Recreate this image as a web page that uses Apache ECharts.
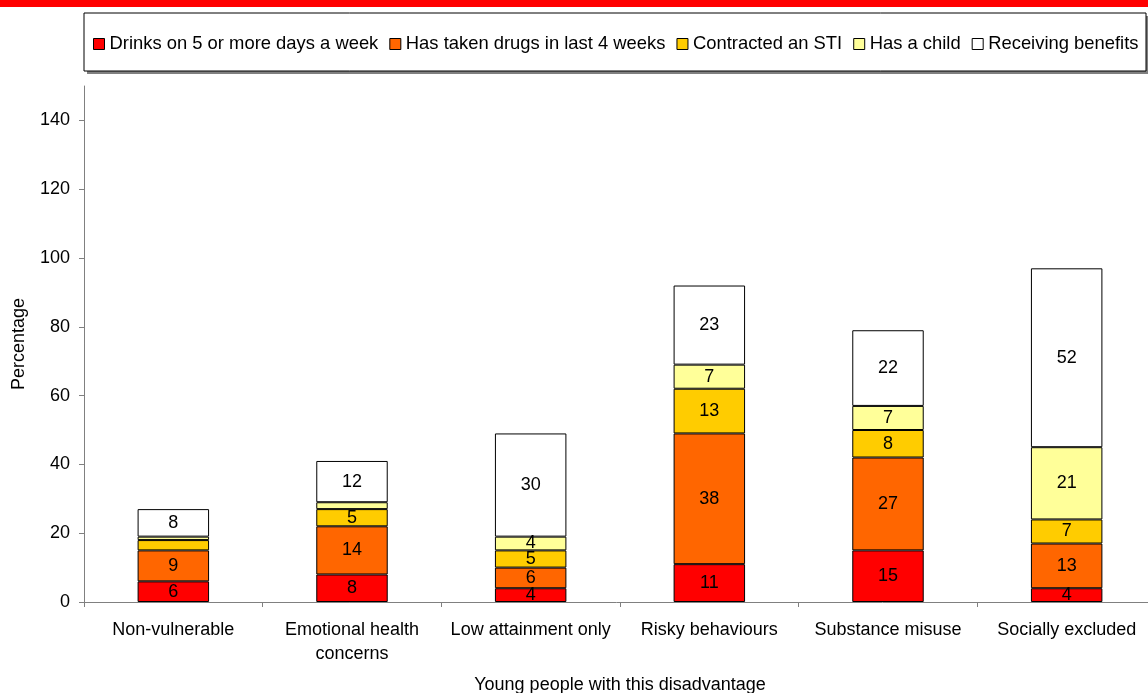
<!DOCTYPE html>
<html>
<head>
<meta charset="utf-8">
<script src="https://cdn.jsdelivr.net/npm/echarts@6/dist/echarts.min.js"></script>
<style>html,body{margin:0;padding:0;background:#fff;overflow:hidden;}#c{width:1148px;height:693px;}</style>
</head>
<body>
<div id="c"></div>
<script>
const categories = ['Non-vulnerable', 'Emotional health\nconcerns', 'Low attainment only', 'Risky behaviours', 'Substance misuse', 'Socially excluded'];
const drinks = [6, 8, 4, 11, 15, 4];
const drugs = [9, 14, 6, 38, 27, 13];
const sti = [3, 5, 5, 13, 8, 7];
const child = [1, 2, 4, 7, 7, 21];
const benefits = [8, 12, 30, 23, 22, 52];
const yTicks = [0, 20, 40, 60, 80, 100, 120, 140];

const FONT = "'Liberation Sans', Arial, sans-serif";
const FS = 18;
const names = ['Drinks on 5 or more days a week', 'Has taken drugs in last 4 weeks', 'Contracted an STI', 'Has a child', 'Receiving benefits'];
const colors = ['#ff0000', '#ff6600', '#ffcc00', '#ffff99', '#ffffff'];
const datas = [drinks, drugs, sti, child, benefits];

const chart = echarts.init(document.getElementById('c'));
const series = datas.map((d, i) => ({
  name: names[i],
  type: 'bar',
  stack: 'total',
  data: d,
  barWidth: '40%',
  itemStyle: { color: colors[i], borderColor: '#000', borderWidth: 1 },
  label: {
    show: true,
    position: 'inside',
    color: '#000',
    fontFamily: FONT,
    fontSize: FS,
    formatter: p => (p.value >= 4 ? String(p.value) : '')
  },
  emphasis: { disabled: true }
}));

chart.setOption({
  animation: false,
  backgroundColor: '#fff',
  graphic: [
    { type: 'rect', shape: { x: 0, y: 0, width: 1148, height: 7 }, style: { fill: '#ff0000' }, z: 10 },
    { type: 'rect', shape: { x: 87, y: 16, width: 1062, height: 58 }, style: { fill: '#808080' }, z: 0 },
    { type: 'rect', shape: { x: 84, y: 13, width: 1062, height: 58 }, style: { fill: '#fff', stroke: '#000', lineWidth: 1 }, z: 1 }
  ],
  legend: {
    top: 30,
    left: 88,
    width: 1200,
    itemWidth: 11,
    itemHeight: 11,
    itemGap: 11,
    icon: 'rect',
    textStyle: { fontFamily: FONT, fontSize: 18.4, color: '#000' },
    itemStyle: { borderColor: '#000', borderWidth: 1 },
    data: names,
    z: 5
  },
  grid: { left: 84, right: -8, top: 86, bottom: 91, containLabel: false, outerBoundsMode: 'none' },
  xAxis: {
    type: 'category',
    data: categories,
    name: 'Young people with this disadvantage',
    nameLocation: 'middle',
    nameGap: 74,
    nameTextStyle: { fontFamily: FONT, fontSize: FS, color: '#000' },
    axisLine: { lineStyle: { color: '#808080', width: 1 } },
    axisTick: { show: true, length: 5, lineStyle: { color: '#808080' } },
    axisLabel: { fontFamily: FONT, fontSize: FS, color: '#000', margin: 16, lineHeight: 24, interval: 0 }
  },
  yAxis: {
    type: 'value',
    min: 0,
    max: 150,
    interval: 10,
    name: 'Percentage',
    nameLocation: 'middle',
    nameGap: 56,
    nameRotate: 90,
    nameTextStyle: { fontFamily: FONT, fontSize: FS, color: '#000' },
    splitLine: { show: false },
    axisLine: { show: true, lineStyle: { color: '#808080', width: 1 } },
    axisTick: { show: true, length: 5, lineStyle: { color: '#808080' }, customValues: yTicks },
    axisLabel: { fontFamily: FONT, fontSize: FS, color: '#000', margin: 14, customValues: yTicks }
  },
  series: series
});
</script>
</body>
</html>
